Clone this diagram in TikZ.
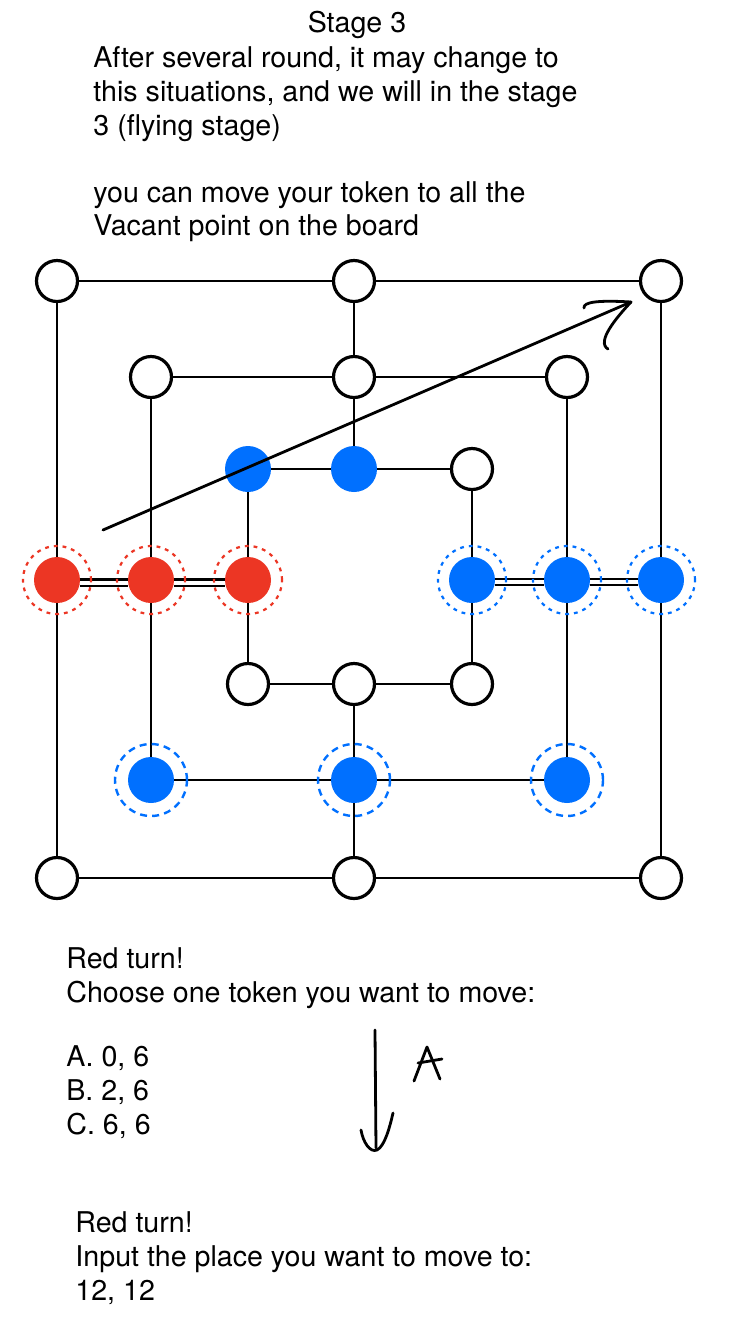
\documentclass[tikz,border=0pt]{standalone}
\usepackage{fontspec}
\setmainfont{TeX Gyre Heros}
\definecolor{tokred}{RGB}{236,54,36}
\definecolor{tokblue}{RGB}{0,112,255}
\begin{document}
\begin{tikzpicture}[x=0.5pt,y=-0.5pt,
  pt/.style={circle,draw=black,line width=1.6pt,fill=white,minimum size=20.5pt,inner sep=0pt},
  redtok/.style={circle,fill=tokred,minimum size=23pt,inner sep=0pt},
  bluetok/.style={circle,fill=tokblue,minimum size=23pt,inner sep=0pt},
  edge/.style={line width=1.4pt},
  dbl/.style={line width=1.2pt,double=white,double distance=1.9pt},
  dotring/.style={line width=1.1pt,dash pattern=on 1.9pt off 2.5pt},
  dashring/.style={line width=1.2pt,dash pattern=on 3.5pt off 2.6pt},
  hand/.style={line width=1.4pt,line cap=round,line join=round},
  txt/.style={anchor=base west,inner sep=0pt,font=\fontsize{14.3pt}{17pt}\selectfont}
]
\fill[white] (0,0) rectangle (732,1330);
\useasboundingbox (0,0) rectangle (732,1330);

% texts
\node[txt,anchor=base] (title) at (357,32) {Stage 3};
\node[txt] (t1) at (93,67) {After several round, it may change to};
\node[txt] (t2) at (93,101) {this situations, and we will in the stage};
\node[txt] (t3) at (93,135) {3 (flying stage)};
\node[txt] (t4) at (93,202) {you can move your token to all the};
\node[txt] (t5) at (93,235) {Vacant point on the board};

\node[txt] (b1) at (66,968) {Red turn!};
\node[txt] (b2) at (66,1002) {Choose one token you want to move:};
\node[txt] (b3) at (66,1066) {A. 0, 6};
\node[txt] (b4) at (66,1100) {B. 2, 6};
\node[txt] (b5) at (66,1134) {C. 6, 6};

\node[txt] (c1) at (75,1232) {Red turn!};
\node[txt] (c2) at (75,1266) {Input the place you want to move to:};
\node[txt] (c3) at (75,1300) {12, 12};

% board points
\node[pt] (o1) at (57,281) {};
\node[pt] (o2) at (354,281) {};
\node[pt] (o3) at (661,281) {};
\node[bluetok] (o4) at (661,580) {};
\node[pt] (o5) at (661,878) {};
\node[pt] (o6) at (354,878) {};
\node[pt] (o7) at (57,878) {};
\node[redtok] (o8) at (57,580) {};

\node[pt] (m1) at (151,377) {};
\node[pt] (m2) at (354,377) {};
\node[pt] (m3) at (567,377) {};
\node[bluetok] (m4) at (567,580) {};
\node[bluetok] (m5) at (567,780) {};
\node[bluetok] (m6) at (354,780) {};
\node[bluetok] (m7) at (151,780) {};
\node[redtok] (m8) at (151,580) {};

\node[bluetok] (i1) at (248,469) {};
\node[bluetok] (i2) at (354,469) {};
\node[pt] (i3) at (472,469) {};
\node[bluetok] (i4) at (472,580) {};
\node[pt] (i5) at (472,684) {};
\node[pt] (i6) at (354,684) {};
\node[pt] (i7) at (248,684) {};
\node[redtok] (i8) at (248,580) {};

% board lines
\draw[edge] (o1) -- (o2); \draw[edge] (o2) -- (o3);
\draw[edge] (o3) -- (o4); \draw[edge] (o4) -- (o5);
\draw[edge] (o5) -- (o6); \draw[edge] (o6) -- (o7);
\draw[edge] (o7) -- (o8); \draw[edge] (o8) -- (o1);
\draw[edge] (m1) -- (m2); \draw[edge] (m2) -- (m3);
\draw[edge] (m3) -- (m4); \draw[edge] (m4) -- (m5);
\draw[edge] (m5) -- (m6); \draw[edge] (m6) -- (m7);
\draw[edge] (m7) -- (m8); \draw[edge] (m8) -- (m1);
\draw[edge] (i1) -- (i2); \draw[edge] (i2) -- (i3);
\draw[edge] (i3) -- (i4); \draw[edge] (i4) -- (i5);
\draw[edge] (i5) -- (i6); \draw[edge] (i6) -- (i7);
\draw[edge] (i7) -- (i8); \draw[edge] (i8) -- (i1);
\draw[edge] (o2) -- (m2); \draw[edge] (m2) -- (i2);
\draw[edge] (i6) -- (m6); \draw[edge] (m6) -- (o6);

% double lines (mills)
\draw[dbl] ([yshift=-1.3pt]o8.east) -- ([yshift=-1.3pt]m8.west);
\draw[dbl] ([yshift=-1.3pt]m8.east) -- ([yshift=-1.3pt]i8.west);
\draw[dbl] ([yshift=-1.0pt]i4.east) -- ([yshift=-1.0pt]m4.west);
\draw[dbl] ([yshift=-1.0pt]m4.east) -- ([yshift=-1.0pt]o4.west);

% rings
\foreach \n in {o8,m8,i8} \draw[dotring,tokred] (\n.center) circle[radius=17pt];
\foreach \n in {i4,m4,o4} \draw[dotring,tokblue] (\n.center) circle[radius=17pt];
\foreach \n in {m7,m6,m5} \draw[dashring,tokblue] (\n.center) circle[radius=18pt];

% hand-drawn arrow over the board
\coordinate (as) at (103,530);
\coordinate (ae) at (631,302);
\draw[hand] (as) -- (ae);
\draw[hand] (584,308) .. controls (583,302) and (598,300) .. (ae);
\draw[hand] (ae) .. controls (616,318) and (596,342) .. (608,349);

% hand-drawn down arrow and letter A
\coordinate (ds) at (375,1030);
\coordinate (de) at (376,1148);
\draw[hand] (ds) -- (de);
\draw[hand] (361,1130) .. controls (363,1142) and (370,1153) .. (377,1150) .. controls (385,1146) and (390,1126) .. (393,1113);
\draw[hand] (414,1081) -- (427,1047) -- (440,1079);
\draw[hand] (418,1063) -- (442,1059);
\end{tikzpicture}
\end{document}
